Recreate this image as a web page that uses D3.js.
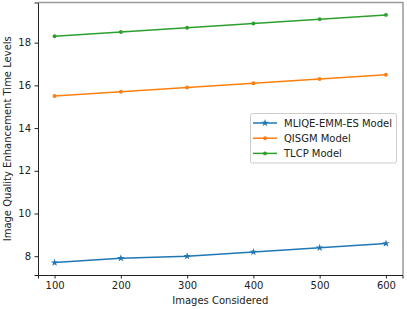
<!DOCTYPE html>
<html><head><meta charset="utf-8">
<script src="https://cdn.jsdelivr.net/npm/d3@7"></script>
<style>body{margin:0;background:#fff}svg{display:block}text{font-family:"DejaVu Sans",sans-serif;fill:#222}</style>
</head><body><svg id="c" width="407" height="309"></svg>
<script>
const xValues = [100, 200, 300, 400, 500, 600];
const mliqe = [7.7, 7.9, 8.0, 8.2, 8.4, 8.6];
const qisgm = [15.5, 15.7, 15.9, 16.1, 16.3, 16.5];
const tlcp = [18.3, 18.5, 18.7, 18.9, 19.1, 19.3];
const seriesNames = ["MLIQE-EMM-ES Model", "QISGM Model", "TLCP Model"];
const colors = ["#1f77b4", "#ff7f0e", "#2ca02c"];
const xTicks = [100, 200, 300, 400, 500, 600];
const yTicks = [8, 10, 12, 14, 16, 18];

const series = [mliqe, qisgm, tlcp];
const svg = d3.select("#c");
const L = 38, R = 402.5, T = 2.5, B = 275;
const x = d3.scaleLinear().domain([75, 625]).range([L, R]);
const y = d3.scaleLinear().domain([7.12, 19.88]).range([B, T]);

const xa = svg.append("g").attr("transform", `translate(0,${B})`).call(d3.axisBottom(x).tickValues(xTicks).tickSize(3.5).tickPadding(3.5));
const ya = svg.append("g").attr("transform", `translate(${L},0)`).call(d3.axisLeft(y).tickValues(yTicks).tickSize(3.5).tickPadding(3.5));
[xa, ya].forEach(a => { a.selectAll("text").style("font-size", "10px").style("font-family", "DejaVu Sans").attr("fill", "#222"); a.selectAll("line").attr("stroke", "#222"); a.select(".domain").attr("stroke", "#222"); });
svg.append("line").attr("x1", L).attr("x2", R + 1).attr("y1", T).attr("y2", T).attr("stroke", "#999").attr("stroke-width", 1.5);
svg.append("line").attr("x1", R + 0.5).attr("x2", R + 0.5).attr("y1", T).attr("y2", B).attr("stroke", "#999").attr("stroke-width", 1.5);

const symFor = k => k === 0 ? d3.symbol().type(d3.symbolStar).size(18) : d3.symbol().type(d3.symbolCircle).size(12);
const line = d3.line().x((d, i) => x(xValues[i])).y(d => y(d));
series.forEach((s, k) => {
  svg.append("path").datum(s).attr("d", line).attr("fill", "none").attr("stroke", colors[k]).attr("stroke-width", 1.5);
  svg.append("g").selectAll("path").data(s).join("path")
    .attr("transform", (d, i) => `translate(${x(xValues[i])},${y(d)})`)
    .attr("d", symFor(k)).attr("fill", colors[k]);
});

svg.append("text").attr("x", (L + R) / 2).attr("y", 304).attr("text-anchor", "middle").style("font-size", "10px").text("Images Considered");
svg.append("text").attr("transform", `translate(11,${(T + B) / 2}) rotate(-90)`).attr("text-anchor", "middle").style("font-size", "10px").text("Image Quality Enhancement Time Levels");

const lg = svg.append("g");
lg.append("rect").attr("x", 250.5).attr("y", 113.5).attr("width", 146).attr("height", 49.5).attr("rx", 2).attr("fill", "#fff").attr("fill-opacity", 0.8).attr("stroke", "#ccc");
seriesNames.forEach((n, k) => {
  const yy = 123 + k * 15.2;
  lg.append("line").attr("x1", 253).attr("x2", 277).attr("y1", yy).attr("y2", yy).attr("stroke", colors[k]).attr("stroke-width", 1.5);
  lg.append("path").attr("transform", `translate(265,${yy})`).attr("d", symFor(k)).attr("fill", colors[k]);
  lg.append("text").attr("x", 284).attr("y", yy + 3.5).style("font-size", "10px").text(n);
});
</script></body></html>
